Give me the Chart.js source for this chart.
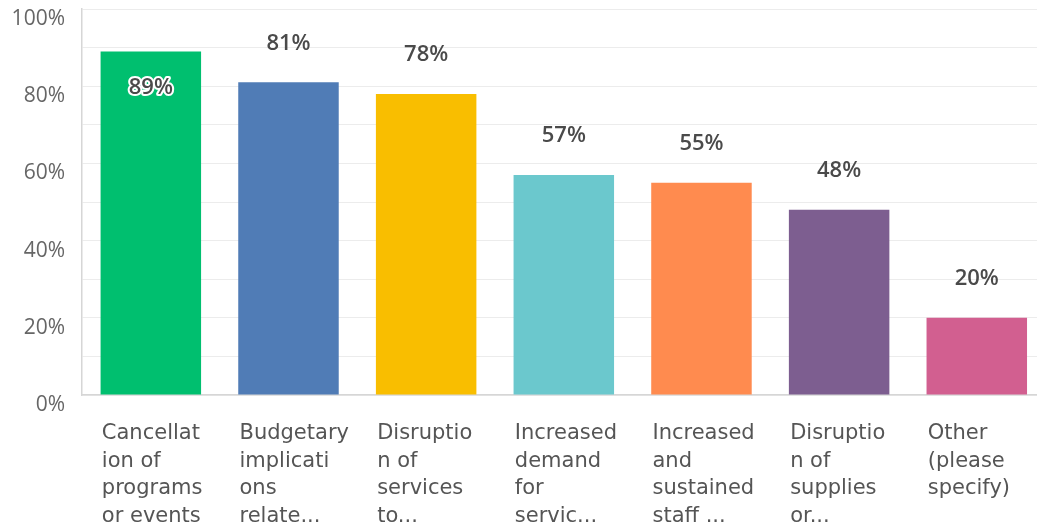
<!DOCTYPE html>
<html>
<head>
<meta charset="utf-8">
<script src="https://cdn.jsdelivr.net/npm/chart.js@4"></script>
<style>
html,body{margin:0;padding:0;background:#fff;overflow:hidden;}
#wrap{width:1060px;height:527px;position:relative;}
</style>
</head>
<body>
<div id="wrap"><canvas id="c" width="1060" height="527"></canvas></div>
<script>
const categories = [
  ["Cancellat","ion of","programs","or events"],
  ["Budgetary","implicati","ons","relate..."],
  ["Disruptio","n of","services","to..."],
  ["Increased","demand","for","servic..."],
  ["Increased","and","sustained","staff ..."],
  ["Disruptio","n of","supplies","or..."],
  ["Other","(please","specify)"]
];
const values = [89, 81, 78, 57, 55, 48, 20];
const barColors = ["#00BF6F","#507CB6","#F9BE00","#6BC8CD","#FF8B4F","#7D5E90","#D25F90"];
const yTicks = [0, 20, 40, 60, 80, 100];

const valueLabels = {
  id: 'valueLabels',
  afterDatasetsDraw(chart) {
    const ctx = chart.ctx;
    const meta = chart.getDatasetMeta(0);
    ctx.save();
    ctx.font = '600 22px "Open Sans"';
    ctx.textAlign = 'center';
    ctx.textBaseline = 'middle';
    meta.data.forEach((bar, i) => {
      const txt = values[i] + '%';
      let y = bar.y - 39;
      if (y < 28) {
        y = bar.y + 36;
        ctx.lineWidth = 4;
        ctx.strokeStyle = '#ffffff';
        ctx.lineJoin = 'round';
        ctx.strokeText(txt, bar.x, y);
      }
      ctx.fillStyle = '#4a4a4a';
      ctx.fillText(txt, bar.x, y);
    });
    ctx.restore();
  }
};

new Chart(document.getElementById('c'), {
  type: 'bar',
  data: {
    labels: categories,
    datasets: [{
      data: values,
      backgroundColor: barColors,
      borderWidth: 0,
      categoryPercentage: 1,
      barPercentage: 0.73
    }]
  },
  options: {
    responsive: false,
    animation: false,
    devicePixelRatio: 1,
    layout: { padding: { top: 9, right: 14, left: 0, bottom: 0 } },
    plugins: { legend: { display: false }, tooltip: { enabled: false } },
    scales: {
      x: {
        grid: { display: true, color: 'transparent', drawTicks: true, tickLength: 25, tickColor: 'transparent' },
        border: { display: true, color: '#d6d6d6', width: 1.5 },
        afterFit(scale) { scale.height = 132; },
        ticks: {
          autoSkip: false,
          maxRotation: 0,
          align: 'start',
          labelOffset: -49,
          padding: 0,
          color: '#555555',
          font: { family: '"DejaVu Sans"', size: 21, lineHeight: 1.31 }
        }
      },
      y: {
        min: 0,
        max: 100,
        afterFit(scale) { scale.width = 82; },
        afterBuildTicks(scale) {
          const t = [];
          for (let v = 0; v <= 100; v += 10) t.push({ value: v });
          scale.ticks = t;
        },
        grid: { color: '#ececec', lineWidth: 1, drawTicks: true, tickLength: 17, tickColor: 'transparent' },
        border: { display: true, color: '#d6d6d6', width: 1.5 },
        ticks: {
          padding: 0,
          labelOffset: 10,
          color: '#666666',
          font: { family: '"Open Sans"', size: 21, lineHeight: 0.8 },
          callback: (v) => yTicks.includes(v) ? v + '%' : ''
        }
      }
    }
  },
  plugins: [valueLabels]
});
</script>
</body>
</html>
